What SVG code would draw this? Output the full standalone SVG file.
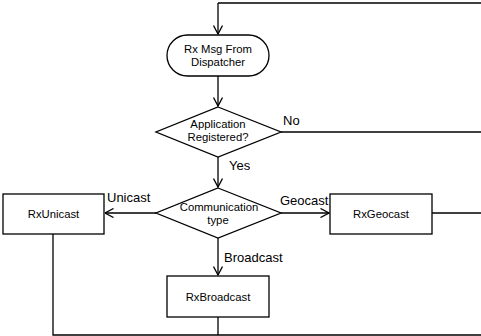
<svg xmlns="http://www.w3.org/2000/svg" width="481" height="336" viewBox="0 0 481 336">
  <defs>
    <marker id="arrow" viewBox="0 0 10 10" refX="9.5" refY="5" markerWidth="10" markerHeight="10" markerUnits="userSpaceOnUse" orient="auto">
      <path d="M1,0.5 L9.5,5 L1,9.5" fill="none" stroke="#000" stroke-width="1.3"/>
    </marker>
  </defs>
  <style>
    .shape { fill: #fff; stroke: #000; stroke-width: 1.3; }
    .edge { fill: none; stroke: #000; stroke-width: 1.3; }
    .node-text { font-family: "Liberation Sans", Arial, sans-serif; font-size: 11.3px; fill: #000; text-anchor: middle; }
    .label { font-family: "Liberation Sans", Arial, sans-serif; font-size: 13px; fill: #000; }
  </style>
  <rect width="481" height="336" fill="#fff"/>

  <g id="connectors">
    <!-- loop back to the start -->
    <path class="edge" d="M218,3 L481,3"/>
    <path class="edge" d="M218,3 L218,34" marker-end="url(#arrow)"/>
    <path class="edge" d="M218,76 L218,106" marker-end="url(#arrow)"/>
    <!-- No branch -->
    <path class="edge" d="M281,132 L481,132"/>
    <!-- Yes branch -->
    <path class="edge" d="M218,157 L218,187" marker-end="url(#arrow)"/>
    <!-- communication type branches -->
    <path class="edge" d="M156,213 L105,213" marker-end="url(#arrow)"/>
    <path class="edge" d="M281,213 L329,213" marker-end="url(#arrow)"/>
    <path class="edge" d="M218,238 L218,275" marker-end="url(#arrow)"/>
    <!-- returns -->
    <path class="edge" d="M432,213 L481,213"/>
    <path class="edge" d="M53,234 L53,335 L481,335"/>
    <path class="edge" d="M218,317 L218,335"/>
    <text class="label" x="283" y="125">No</text>
    <text class="label" x="229" y="170">Yes</text>
    <text class="label" x="107" y="202">Unicast</text>
    <text class="label" x="280" y="205">Geocast</text>
    <text class="label" x="224" y="262">Broadcast</text>
  </g>

  <g id="rx-msg">
    <rect class="shape" x="167" y="35" width="102" height="41" rx="20.5" ry="20.5"/>
    <text class="node-text" x="218" y="53">Rx Msg From</text>
    <text class="node-text" x="218" y="66">Dispatcher</text>
  </g>

  <g id="app-registered">
    <polygon class="shape" points="218,107 281,132 218,157 156,132"/>
    <text class="node-text" x="218" y="128">Application</text>
    <text class="node-text" x="218" y="141">Registered?</text>
  </g>

  <g id="comm-type">
    <polygon class="shape" points="218,188 281,213 218,238 156,213"/>
    <text class="node-text" x="219" y="211">Communication</text>
    <text class="node-text" x="218" y="224">type</text>
  </g>

  <g id="rx-unicast">
    <rect class="shape" x="3" y="194" width="101" height="40"/>
    <text class="node-text" x="53.5" y="218">RxUnicast</text>
  </g>

  <g id="rx-geocast">
    <rect class="shape" x="330" y="194" width="102" height="40"/>
    <text class="node-text" x="381" y="218">RxGeocast</text>
  </g>

  <g id="rx-broadcast">
    <rect class="shape" x="167" y="276" width="102" height="41"/>
    <text class="node-text" x="218" y="301">RxBroadcast</text>
  </g>
</svg>
